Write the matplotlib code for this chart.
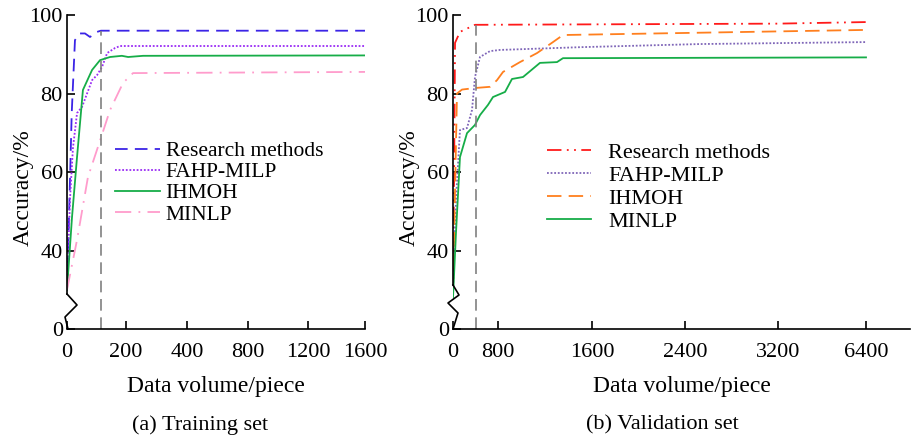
import numpy as np
import matplotlib
matplotlib.use("Agg")
import matplotlib.pyplot as plt
import matplotlib.transforms as mtransforms

plt.rcParams['font.family'] = ['Liberation Serif', 'DejaVu Serif']
plt.rcParams['mathtext.fontset'] = 'stix'

# ---------------- data ----------------
series_names = ["Research methods", "FAHP-MILP", "IHMOH", "MINLP"]

train_xticks = [0, 200, 400, 800, 1200, 1600]
val_xticks = [0, 800, 1600, 2400, 3200, 6400]
yticks_labels = ["0", "40", "60", "80", "100"]

train_rm_x = [0, 8, 16, 27, 44, 61, 78, 102, 115, 1600]
train_rm_y = [30, 52, 75, 93.6, 95.3, 95.3, 94.4, 95.7, 96, 96]
train_fahp_x = [0, 10, 20, 34, 51, 68, 85, 102, 119, 136, 163, 180, 1600]
train_fahp_y = [30, 52.9, 66, 75, 76.6, 80, 83.4, 84.7, 86.8, 90.3, 91.6, 92.1, 92.1]
train_ihmoh_x = [0, 17, 34, 54, 85, 112, 146, 186, 207, 256, 1600]
train_ihmoh_y = [30, 48.5, 63.8, 80.9, 86, 88.5, 89.3, 89.6, 89.3, 89.6, 89.7]
train_minlp_x = [0, 34, 71, 112, 146, 190, 223, 1600]
train_minlp_y = [30, 42.7, 58.7, 68, 75.8, 82.7, 85.2, 85.5]

val_rm_x = [0, 20, 36, 124, 391, 3200, 6400]
val_rm_y = [30, 60, 92.9, 95.7, 97.5, 97.8, 98.2]
val_fahp_x = [0, 53, 124, 249, 338, 391, 480, 658, 817, 1498, 2529, 6400]
val_fahp_y = [30, 52.9, 70.7, 71.2, 75.8, 84.2, 89.3, 90.8, 91.1, 91.8, 92.6, 93.1]
val_ihmoh_x = [0, 71, 160, 391, 658, 782, 843, 987, 1132, 1268, 1353, 6400]
val_ihmoh_y = [30, 80, 81, 81.4, 81.7, 83.4, 85.5, 88, 90.3, 93.1, 94.9, 96.2]
val_minlp_x = [0, 53, 124, 249, 391, 480, 622, 711, 860, 919, 1013, 1157, 1302, 1353, 6400]
val_minlp_y = [28, 44.5, 63.8, 69.9, 72, 74.5, 77.1, 79.1, 80.4, 83.7, 84.2, 87.8, 88, 89, 89.2]

train_split = 115
val_split = 400

# ---------------- figure ----------------
W, H = 917, 436
fig = plt.figure(figsize=(W / 100, H / 100), dpi=100)

def px_axes(x0, x1, y0, y1):
    return fig.add_axes([x0 / W, 1 - y1 / H, (x1 - x0) / W, (y1 - y0) / H])

axL = px_axes(67, 365, 15, 329)
axR = px_axes(453, 910, 15, 329)

# piecewise x scales
tn = np.array(train_xticks, float)
tp = np.array([0, 59, 120, 181, 241, 298], float)
vn = np.array(val_xticks + [8000], float)
vp = np.array([0, 45, 139, 232, 325, 413, 457], float)

def make_scale(nodes, pos):
    return (lambda x: np.interp(x, nodes, pos), lambda y: np.interp(y, pos, nodes))

axL.set_xscale('function', functions=make_scale(tn, tp))
axR.set_xscale('function', functions=make_scale(vn, vp))

Y0 = 20.0
for ax in (axL, axR):
    ax.set_ylim(Y0, 100)
    ax.set_yticks([Y0, 40, 60, 80, 100])
    ax.set_yticklabels(yticks_labels)
    ax.spines['top'].set_visible(False)
    ax.spines['right'].set_visible(False)
    for s in ('left', 'bottom'):
        ax.spines[s].set_linewidth(1.2)
    ax.tick_params(direction='in', length=5.5, width=1.2, labelsize=16)
    ax.tick_params(axis='x', pad=10)
    ax.tick_params(axis='y', pad=3)
    ax.set_ylabel("Accuracy/%", fontsize=17)
    ax.set_xlabel("Data volume/piece", fontsize=17)
    ax.patch.set_visible(False)

axL.set_xlim(0, 1600)
axL.set_xticks(train_xticks)
axL.set_xticklabels([str(v) for v in train_xticks])
axR.set_xlim(0, 8000)
axR.set_xticks(val_xticks)
axR.set_xticklabels([str(v) for v in val_xticks])

# left panel lines
lw = 1.3
axL.plot(train_rm_x, train_rm_y, color='#3b24e6', lw=lw, ls=(0, (7, 4)), label=series_names[0])
axL.plot(train_fahp_x, train_fahp_y, color='#9a2cf5', lw=lw, ls=(0, (1, 1)), label=series_names[1])
axL.plot(train_ihmoh_x, train_ihmoh_y, color='#16ad48', lw=lw, ls='-', label=series_names[2])
axL.plot(train_minlp_x, train_minlp_y, color='#ff9ccc', lw=lw, ls=(0, (9, 4, 1, 4)), label=series_names[3])
axL.vlines(train_split, Y0, 96, colors='#808080', lw=1.2, linestyles=(0, (7, 4)))

# right panel lines
axR.plot(val_rm_x, val_rm_y, color='#ff1a1a', lw=lw, ls=(0, (8, 3, 1, 3, 1, 3)), label=series_names[0])
axR.plot(val_fahp_x, val_fahp_y, color='#7f66b8', lw=lw, ls=(0, (1, 1)), label=series_names[1])
axR.plot(val_ihmoh_x, val_ihmoh_y, color='#ff7f1e', lw=lw, ls=(0, (8, 4)), label=series_names[2])
axR.plot(val_minlp_x, val_minlp_y, color='#16ad48', lw=lw, ls='-', label=series_names[3])
axR.vlines(val_split, Y0, 97.5, colors='#808080', lw=1.2, linestyles=(0, (7, 4)))

# axis breaks
def ybreak(ax, axw, pts):
    tr = mtransforms.blended_transform_factory(ax.transAxes, ax.transData)
    xs = [p[0] / axw for p in pts]
    ys = [100 - (p[1] - 15) / 78.5 * 20 for p in pts]
    ax.spines['left'].set_bounds(ys[0], 100)
    ax.plot(xs, ys, transform=tr, color='black', lw=1.2, clip_on=False)

ybreak(axL, 298, [(0, 294), (10, 305), (-2, 317), (1, 329)])
ybreak(axR, 457, [(0, 285), (6, 295), (-5, 303), (5, 313), (0, 329)])

for ax, w, xl in ((axL, 298, 22), (axR, 457, 408)):
    ax.yaxis.set_label_coords((xl - (67 if ax is axL else 453) + 12) / w, 0.45)
    ax.xaxis.set_label_coords(0.5, -0.15)

axL.legend(loc='upper left', bbox_to_anchor=(115 / W, 1 - 141 / H), bbox_transform=fig.transFigure,
           frameon=False, fontsize=15.5, handlelength=2.1, handletextpad=0.25,
           labelspacing=0.05, borderpad=0, borderaxespad=0)
axR.legend(loc='upper left', bbox_to_anchor=(547 / W, 1 - 142 / H), bbox_transform=fig.transFigure,
           frameon=False, fontsize=16, handlelength=2.0, handletextpad=0.75,
           labelspacing=0.12, borderpad=0, borderaxespad=0)

fig.text(200 / W, 1 - 425 / H, "(a) Training set", ha='center', va='center', fontsize=16)
fig.text(662 / W, 1 - 425 / H, "(b) Validation set", ha='center', va='center', fontsize=16)

fig.savefig("out.png", dpi=100)
